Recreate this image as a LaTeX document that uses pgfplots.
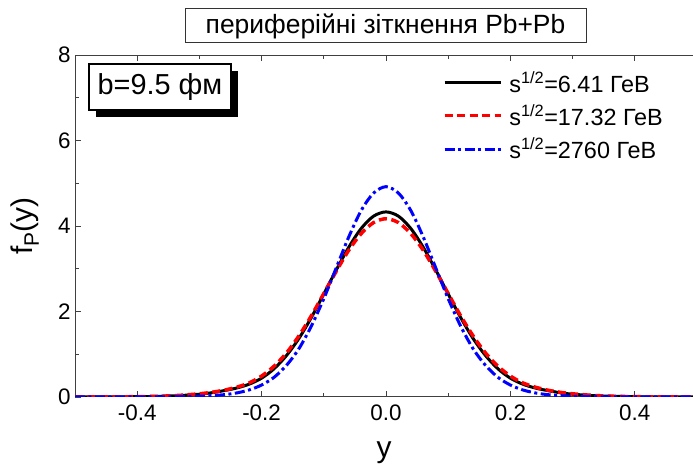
\documentclass[border=0pt]{standalone}
\usepackage{pgfplots}
\usepackage{pgfplotstable}
\pgfplotsset{compat=1.18}
\usepackage{fontspec}
\setmainfont{Liberation Sans}

\pgfplotstableread{
x y
-0.50 0.0005
-0.45 0.002
-0.40 0.007
-0.36 0.018
-0.33 0.035
-0.30 0.065
-0.28 0.10
-0.26 0.15
-0.24 0.21
-0.22 0.30
-0.20 0.44
-0.18 0.66
-0.16 0.97
-0.14 1.37
-0.12 1.86
-0.10 2.41
-0.08 2.97
-0.06 3.50
-0.04 3.94
-0.02 4.23
0.00 4.33
0.02 4.23
0.04 3.94
0.06 3.50
0.08 2.97
0.10 2.41
0.12 1.86
0.14 1.37
0.16 0.97
0.18 0.66
0.20 0.44
0.22 0.30
0.24 0.21
0.26 0.15
0.28 0.10
0.30 0.065
0.33 0.035
0.36 0.018
0.40 0.007
0.45 0.002
0.50 0.0005
}\blackdata

\pgfplotstableread{
x y
-0.50 0.0005
-0.45 0.002
-0.40 0.008
-0.36 0.02
-0.33 0.04
-0.30 0.075
-0.28 0.11
-0.26 0.16
-0.24 0.23
-0.22 0.33
-0.20 0.49
-0.18 0.72
-0.16 1.03
-0.14 1.43
-0.12 1.90
-0.10 2.42
-0.08 2.94
-0.06 3.43
-0.04 3.82
-0.02 4.08
0.00 4.17
0.02 4.08
0.04 3.82
0.06 3.43
0.08 2.94
0.10 2.42
0.12 1.90
0.14 1.43
0.16 1.03
0.18 0.72
0.20 0.49
0.22 0.33
0.24 0.23
0.26 0.16
0.28 0.11
0.30 0.075
0.33 0.04
0.36 0.02
0.40 0.008
0.45 0.002
0.50 0.0005
}\reddata

\pgfplotstableread{
x y
-0.50 0.0
-0.45 0.0003
-0.40 0.001
-0.36 0.003
-0.33 0.008
-0.30 0.018
-0.28 0.032
-0.26 0.055
-0.24 0.095
-0.22 0.165
-0.20 0.28
-0.18 0.46
-0.16 0.74
-0.14 1.13
-0.12 1.66
-0.10 2.30
-0.08 3.02
-0.06 3.74
-0.04 4.36
-0.02 4.77
0.00 4.92
0.02 4.77
0.04 4.36
0.06 3.74
0.08 3.02
0.10 2.30
0.12 1.66
0.14 1.13
0.16 0.74
0.18 0.46
0.20 0.28
0.22 0.165
0.24 0.095
0.26 0.055
0.28 0.032
0.30 0.018
0.33 0.008
0.36 0.003
0.40 0.001
0.45 0.0003
0.50 0.0
}\bluedata

\begin{document}
\begin{tikzpicture}
\begin{axis}[
  at={(75bp,68bp)}, anchor=south west,
  scale only axis,
  width=618bp, height=342bp,
  xmin=-0.5, xmax=0.4936,
  ymin=0, ymax=8,
  axis y line*=left,
  axis line style={line width=1bp, black!75},
  xtick={-0.4,-0.2,0,0.2,0.4},
  minor xtick={-0.3,-0.1,0.1,0.3},
  ytick={0,2,4,6,8},
  minor ytick={1,3,5,7},
  tick align=inside,
  major tick length=6bp,
  minor tick length=4bp,
  tick style={line width=0.8bp, black!75},
  /pgf/number format/assume math mode=true,
  tick label style={font=\fontsize{22.5}{25}\selectfont},
  xticklabel style={yshift=-4bp, /pgf/number format/.cd, fixed, fixed zerofill, precision=1},
  yticklabel style={xshift=-1bp, /pgf/number format/.cd, fixed, precision=0},
  xlabel={y},
  ylabel={f\textsubscript{P}(y)},
  label style={font=\fontsize{30}{33}\selectfont},
  xlabel style={yshift=-14bp},
  ylabel style={yshift=12bp},
  legend style={at={(0.59,0.965)}, anchor=north west, draw=none, fill=none,
    font=\fontsize{23.5}{27}\selectfont, row sep=7bp},
  legend cell align=left,
  legend image code/.code={\draw[#1] (0bp,0bp) -- (56bp,0bp); \path (61bp,0bp);},
]
\addplot[black, line width=3bp, smooth] table[x=x,y=y] {\blackdata};
\addlegendentry{s\textsuperscript{1/2}=6.41 ГеВ}
\addplot[red, line width=3.5bp, dash pattern=on 8bp off 4.5bp, smooth] table[x=x,y=y] {\reddata};
\addlegendentry{s\textsuperscript{1/2}=17.32 ГеВ}
\addplot[blue, line width=3bp, dash pattern=on 10bp off 3.5bp on 3bp off 3.5bp, smooth] table[x=x,y=y] {\bluedata};
\addlegendentry{s\textsuperscript{1/2}=2760 ГеВ}
\end{axis}
% title box
\node[draw=black!80, line width=1bp, fill=white, minimum width=401bp, minimum height=34bp, inner sep=0pt,
  font=\fontsize{26.5}{30}\selectfont] at (385.5bp,439bp) {периферійні зіткнення Pb+Pb};
% b box with shadow
\fill[black] (96bp,348bp) rectangle (238bp,394bp);
\node[draw=black, line width=1.2bp, fill=white, minimum width=142bp, minimum height=46bp, inner sep=0pt,
  font=\fontsize{29}{32}\selectfont] at (160bp,378bp) {b=9.5 фм};
\pgfresetboundingbox
\path[use as bounding box] (0,0) rectangle (693bp,465bp);
\end{tikzpicture}
\end{document}
